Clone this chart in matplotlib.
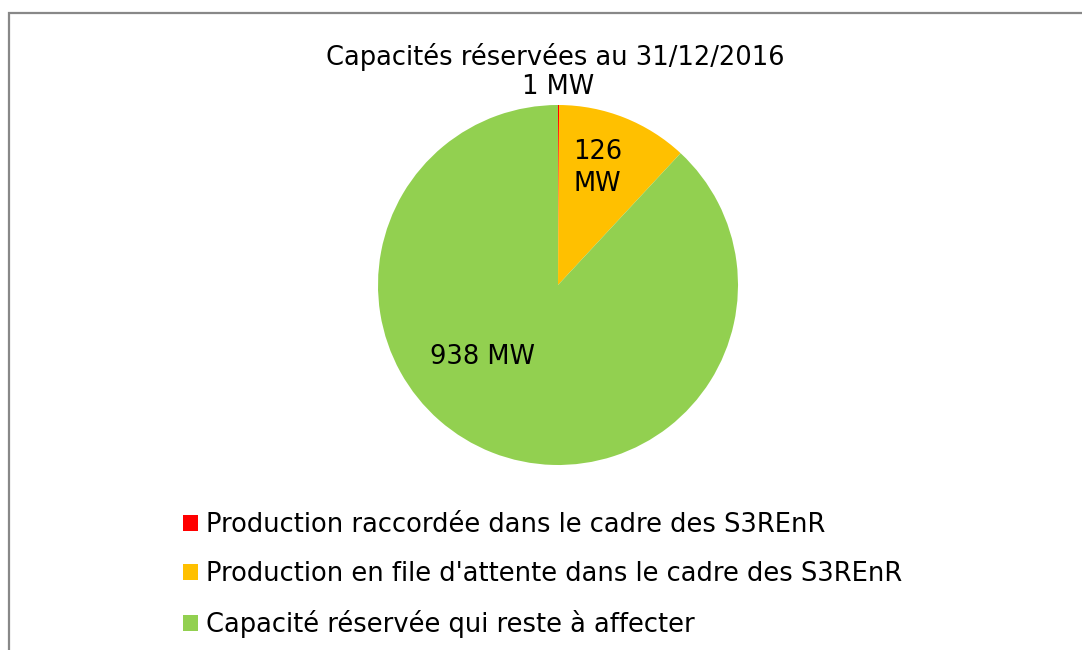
import matplotlib.pyplot as plt
from matplotlib.patches import Patch
from matplotlib.lines import Line2D

# Data
categories = ['Production raccordée dans le cadre des S3REnR',
              "Production en file d'attente dans le cadre des S3REnR",
              'Capacité réservée qui reste à affecter']
values = [1, 126, 938]
value_labels = ['1 MW', '126\nMW', '938 MW']
colors = ['#FF0000', '#FFC000', '#92D050']

plt.rcParams['font.family'] = ['DejaVu Sans']
FS = 18.5

fig = plt.figure(figsize=(10.82, 6.5), dpi=100)
W, H = 1082, 650

# pie axes: centre (558, 285) px, radius 180 px
ax = fig.add_axes([378 / W, (H - 465) / H, 360 / W, 360 / H])
ax.pie(values, colors=colors, startangle=90, counterclock=False,
       wedgeprops=dict(linewidth=0))
ax.set_xlim(-1, 1)
ax.set_ylim(-1, 1)
ax.set_aspect('equal')
ax.axis('off')

# data labels (positions relative to the pie, in radius units)
label_pos = [(0.0, 1.10), (0.22, 0.65), (-0.42, -0.40)]
for (x, y), txt in zip(label_pos, value_labels):
    ax.text(x, y, txt, ha='center', va='center', fontsize=FS,
            color='black', clip_on=False, linespacing=1.3)

fig.text(555 / W, 1 - 57 / H, 'Capacités réservées au 31/12/2016',
         ha='center', va='center', fontsize=FS)

# legend
handles = [Patch(facecolor=c, edgecolor='none') for c in colors]
fig.legend(handles, categories, loc='upper left',
           bbox_to_anchor=(183 / W, 1 - 512 / H), frameon=False,
           fontsize=FS, handlelength=0.6, handleheight=0.6,
           handletextpad=0.28, labelspacing=0.9, borderpad=0,
           borderaxespad=0)

# chart border (left and top only visible)
fig.add_artist(Line2D([9 / W, 9 / W, 1.0], [0.0, 1 - 13 / H, 1 - 13 / H],
                      transform=fig.transFigure, color='#888888',
                      linewidth=1.6, solid_joinstyle='miter'))

fig.savefig('out.png', dpi=100, facecolor='white')
